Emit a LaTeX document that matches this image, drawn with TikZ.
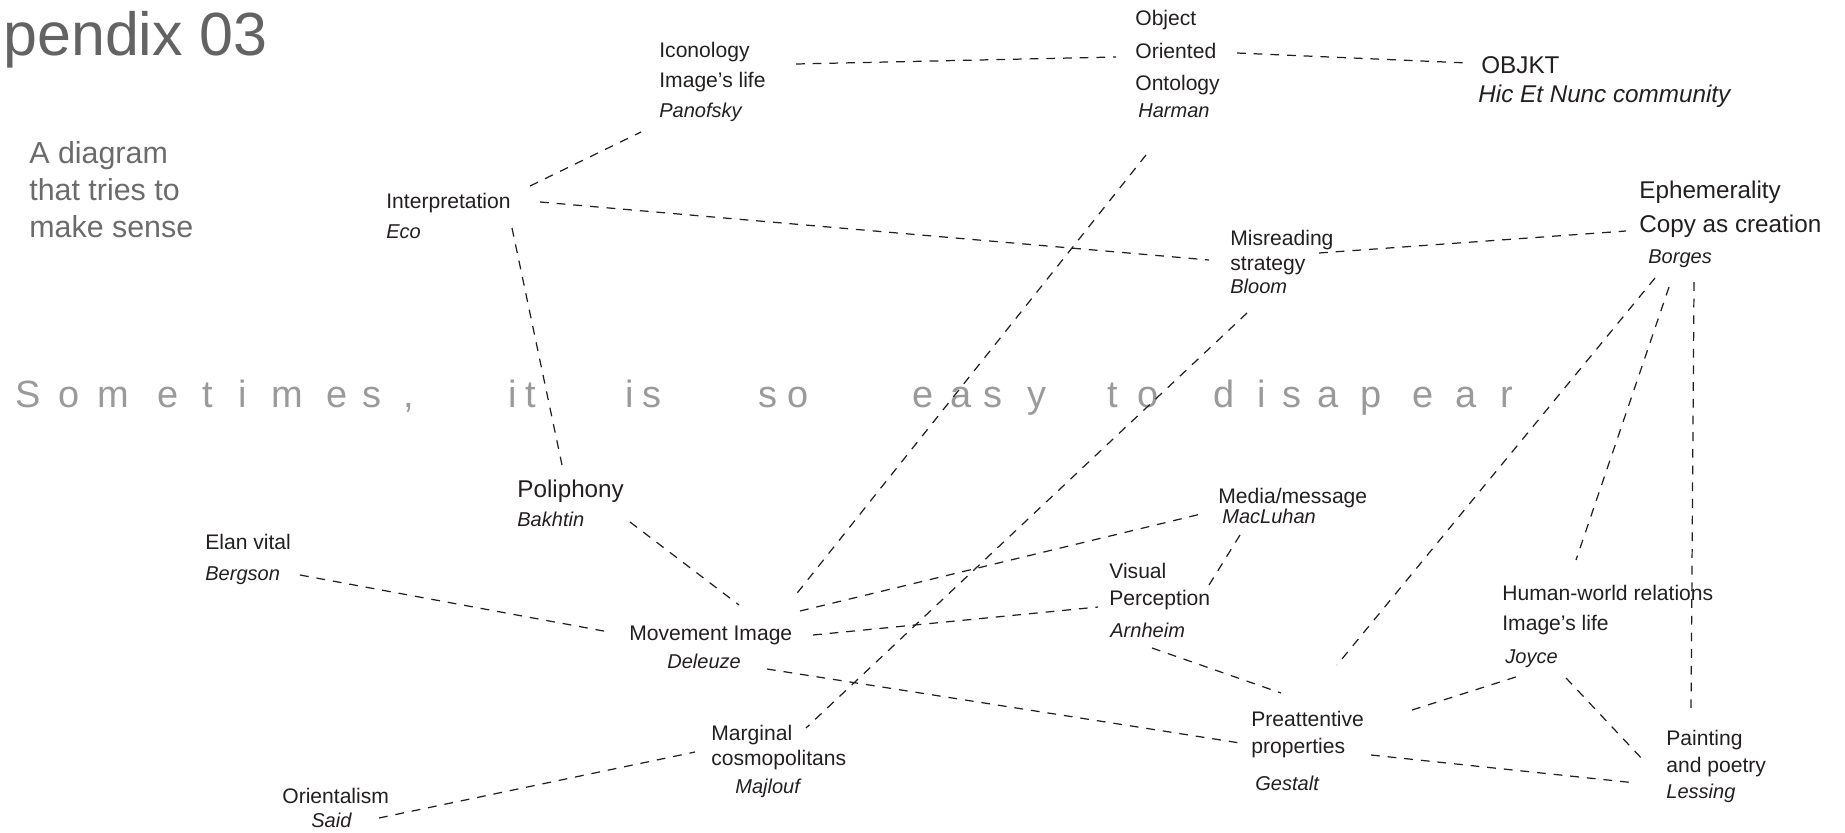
\documentclass[tikz,border=0pt]{standalone}
\usepackage{fontspec}
\setmainfont{Liberation Sans}
\usetikzlibrary{positioning}

\definecolor{ink}{HTML}{231F20}
\definecolor{titlegray}{HTML}{636363}
\definecolor{notegray}{HTML}{6B6B6B}
\definecolor{fadegray}{HTML}{9A9A9A}

\tikzset{
	lbl/.style={inner sep=0pt, anchor=base west, text=ink, font=\fontsize{12}{14}\selectfont},
	biglbl/.style={lbl, font=\fontsize{13.8}{16}\selectfont},
	auth/.style={lbl, font=\fontsize{11.4}{13}\selectfont\itshape},
	bigauth/.style={lbl, font=\fontsize{13.8}{16}\selectfont\itshape},
	note/.style={inner sep=0pt, anchor=base west, text=notegray, font=\fontsize{17.3}{20}\selectfont},
	fade/.style={inner sep=0pt, anchor=base west, text=fadegray, font=\fontsize{21.6}{24}\selectfont},
	link/.style={draw=ink, line width=0.7pt, dash pattern=on 5pt off 4.5pt},
}

\begin{document}
\begin{tikzpicture}[x=0.02cm, y=-0.02cm]
		\useasboundingbox (0,0) rectangle (1845,832);
		
		\node[inner sep=0pt, anchor=base west, text=titlegray, font=\fontsize{34.7}{38}\selectfont] (title) at (3,55) {pendix 03};
		\node[note] (note1) at (29,163) {A diagram};
		\node[note] (note2) at (29,200) {that tries to};
		\node[note] (note3) at (29,237) {make sense};
		
		% the line of text across the middle
		\foreach \xx/\ch in {15/S,58/o,97/m,157/e,202/t,238/i,271/m,326/e,362/s,508/i,525/t,625/i,642/s,758/s,787/o,912/e,950/a,983/s,1027/y,1107/t,1137/o,1213/d,1257/i,1282/s,1317/a,1360/p,1412/e,1455/a,1500/r}
		\node[fade] (ch\xx) at (\xx,407) {\ch};
		\node[fade] (chcomma) at (403,407) {,};
		
		\node[lbl] (ico1) at (659,57) {Iconology};
		\node[lbl] (ico2) at (659,87) {Image’s life};
		\node[auth] (pano) at (659,117) {Panofsky};
		
		\node[lbl] (ooo1) at (1135,25) {Object};
		\node[lbl] (ooo2) at (1135,58) {Oriented};
		\node[lbl] (ooo3) at (1135,90) {Ontology};
		\node[auth] (harman) at (1138,117) {Harman};
		
		\node[biglbl] (objkt) at (1481,73) {OBJKT};
		\node[bigauth] (hen) at (1478,102) {Hic Et Nunc community};
		
		\node[lbl] (interp) at (386,208) {Interpretation};
		\node[auth] (eco) at (386,238) {Eco};
		
		\node[lbl] (misr1) at (1230,245) {Misreading};
		\node[lbl] (misr2) at (1230,270) {strategy};
		\node[auth] (bloom) at (1230,293) {Bloom};
		
		\node[biglbl] (eph1) at (1639,198) {Ephemerality};
		\node[biglbl] (eph2) at (1639,232) {Copy as creation};
		\node[auth] (borges) at (1648,263) {Borges};
		
		\node[biglbl] (poli) at (517,497) {Poliphony};
		\node[auth] (bakh) at (517,526) {Bakhtin};
		
		\node[lbl] (elan) at (205,549) {Elan vital};
		\node[auth] (berg) at (205,580) {Bergson};
		
		\node[lbl] (move) at (629,640) {Movement Image};
		\node[auth] (del) at (667,668) {Deleuze};
		
		\node[lbl] (media) at (1218,503) {Media/message};
		\node[auth] (macl) at (1222,523) {MacLuhan};
		
		\node[lbl] (vis1) at (1109,578) {Visual};
		\node[lbl] (vis2) at (1109,605) {Perception};
		\node[auth] (arn) at (1110,637) {Arnheim};
		
		\node[lbl] (pre1) at (1251,726) {Preattentive};
		\node[lbl] (pre2) at (1251,753) {properties};
		\node[auth] (gest) at (1255,790) {Gestalt};
		
		\node[lbl] (hum1) at (1502,600) {Human-world relations};
		\node[lbl] (hum2) at (1502,630) {Image’s life};
		\node[auth] (joyce) at (1505,663) {Joyce};
		
		\node[lbl] (paint1) at (1666,745) {Painting};
		\node[lbl] (paint2) at (1666,772) {and poetry};
		\node[auth] (less) at (1666,798) {Lessing};
		
		\node[lbl] (marg1) at (711,740) {Marginal};
		\node[lbl] (marg2) at (711,765) {cosmopolitans};
		\node[auth] (maj) at (735,793) {Majlouf};
		
		\node[lbl] (orient) at (282,803) {Orientalism};
		\node[auth] (said) at (311,827) {Said};
		
		% ends of the dashed links
		\coordinate (ico-e) at (796,64);
		\coordinate (ooo-w) at (1116,57);
		\coordinate (ooo-e) at (1237,53);
		\coordinate (objkt-w) at (1468,63);
		\coordinate (interp-ne) at (530,186);
		\coordinate (pano-sw) at (641,132);
		\coordinate (interp-e) at (540,202);
		\coordinate (misr-w) at (1209,260);
		\coordinate (interp-s) at (512,228);
		\coordinate (poli-n) at (562,465);
		\coordinate (misr-e) at (1319,253);
		\coordinate (eph-w) at (1626,231);
		\coordinate (harman-s) at (1146,155);
		\coordinate (move-ne) at (794,597);
		\coordinate (bloom-s) at (1247,313);
		\coordinate (marg-ne) at (806,728);
		\coordinate (borges-sw) at (1655,278);
		\coordinate (pre-ne) at (1337,665);
		\coordinate (borges-s) at (1669,287);
		\coordinate (hum-n) at (1576,560);
		\coordinate (borges-se) at (1694,282);
		\coordinate (paint-n) at (1691,710);
		\coordinate (poli-se) at (630,522);
		\coordinate (move-nw) at (739,605);
		\coordinate (berg-e) at (300,575);
		\coordinate (move-w) at (609,632);
		\coordinate (move-e1) at (800,611);
		\coordinate (media-sw) at (1201,514);
		\coordinate (move-e2) at (813,635);
		\coordinate (vis-w) at (1098,607);
		\coordinate (macl-s) at (1240,535);
		\coordinate (vis-ne) at (1209,585);
		\coordinate (arn-s) at (1152,648);
		\coordinate (pre-n) at (1281,693);
		\coordinate (del-e) at (767,669);
		\coordinate (pre-w) at (1240,743);
		\coordinate (pre-e) at (1412,710);
		\coordinate (joyce-sw) at (1522,675);
		\coordinate (joyce-se) at (1566,678);
		\coordinate (paint-nw) at (1645,762);
		\coordinate (pre-se) at (1371,755);
		\coordinate (less-w) at (1636,783);
		\coordinate (said-e) at (379,818);
		\coordinate (marg-w) at (695,752);
		
		\draw[link] (ico-e) edge (ooo-w);
		\draw[link] (ooo-e) edge (objkt-w);
		\draw[link] (interp-ne) edge (pano-sw);
		\draw[link] (interp-e) edge (misr-w);
		\draw[link] (interp-s) edge (poli-n);
		\draw[link] (misr-e) edge (eph-w);
		\draw[link] (harman-s) edge (move-ne);
		\draw[link] (bloom-s) edge (marg-ne);
		\draw[link] (borges-sw) edge (pre-ne);
		\draw[link] (borges-s) edge (hum-n);
		\draw[link] (borges-se) edge (paint-n);
		\draw[link] (poli-se) edge (move-nw);
		\draw[link] (berg-e) edge (move-w);
		\draw[link] (move-e1) edge (media-sw);
		\draw[link] (move-e2) edge (vis-w);
		\draw[link] (macl-s) edge (vis-ne);
		\draw[link] (arn-s) edge (pre-n);
		\draw[link] (del-e) edge (pre-w);
		\draw[link] (pre-e) edge (joyce-sw);
		\draw[link] (joyce-se) edge (paint-nw);
		\draw[link] (pre-se) edge (less-w);
		\draw[link] (said-e) edge (marg-w);
		
\end{tikzpicture}
\end{document}
